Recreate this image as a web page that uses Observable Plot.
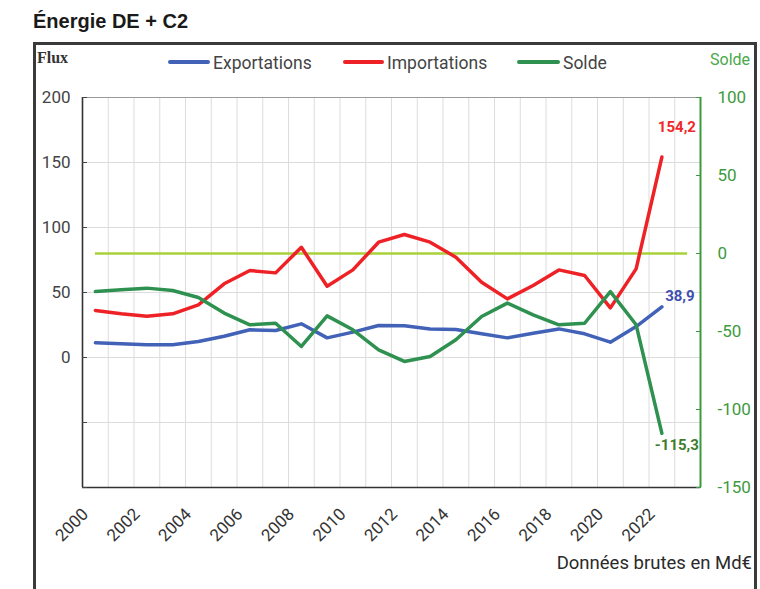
<!DOCTYPE html>
<html><head><meta charset="utf-8">
<script src="https://cdn.jsdelivr.net/npm/d3@7"></script>
<script src="https://cdn.jsdelivr.net/npm/@observablehq/plot@0.6"></script>
<style>
body{margin:0;background:#fff;}
#wrap{position:relative;width:760px;height:589px;overflow:hidden;font-family:Roboto,"Liberation Sans",Arial,sans-serif;}
.abs{position:absolute;white-space:nowrap;}
#wrap svg{position:absolute;left:0;top:0;}
</style></head><body>
<div id="wrap"></div>
<script>
// ---- data ----
const years = [2000,2001,2002,2003,2004,2005,2006,2007,2008,2009,2010,2011,2012,2013,2014,2015,2016,2017,2018,2019,2020,2021,2022];
const exportations = [11.3,10.5,9.8,9.8,12.3,16.4,21.3,20.8,25.9,15.1,19.5,24.6,24.4,22.0,21.5,18.2,15.1,18.7,22.0,18.2,11.8,23.8,38.9];
const importations = [36.2,33.6,31.8,33.6,40.5,56.7,66.9,65.1,84.8,54.8,67.4,88.7,94.6,88.7,77.2,57.9,45.1,55.4,67.4,63.1,38.2,68.2,154.2];
const solde = [-24.4,-23.3,-22.2,-23.7,-28.2,-38.2,-45.7,-44.7,-59.6,-40.0,-48.9,-61.8,-69.2,-66.0,-55.3,-40.4,-31.8,-39.3,-45.7,-44.7,-24.4,-45.7,-115.3];
const seriesNames = ["Exportations","Importations","Solde"];
const seriesColors = ["#4262b8","#ee2226","#2e9150"];
const labelColors = ["#3f4fb0","#ee2a2a","#3f7d2c"];
const leftDomain = [-100,200];
const leftTicks = [-100,-50,0,50,100,150,200];
const rightDomain = [-150,100];
const rightTicks = [100,50,0,-50,-100,-150];
const xTicks = [2000,2002,2004,2006,2008,2010,2012,2014,2016,2018,2020,2022];
const title = "Énergie DE + C2";
const leftAxisTitle = "Flux";
const rightAxisTitle = "Solde";
const footnote = "Données brutes en Md€";

// ---- derived ----
const toLeft = d3.scaleLinear().domain(rightDomain).range(leftDomain);
const xDomain = [years[0]-0.5, years[years.length-1]+1.5];
const boundaries = years.map(y => y + 0.5);
const values = [exportations, importations, solde];
const table = [];
seriesNames.forEach((s, k) => years.forEach((yr, i) => table.push({
  year: yr, serie: s, value: values[k][i], y: s === "Solde" ? toLeft(values[k][i]) : values[k][i]
})));
const last = seriesNames.map((s, k) => table.filter(d => d.serie === s).pop());
const fmt = v => v.toFixed(1).replace(".", ",");
const labelOffsets = [[18,-11],[15,-30],[15,12]];

const lineMarks = seriesNames.map((s, k) =>
  Plot.line(table.filter(d => d.serie === s), {x:"year", y:"y", stroke: seriesColors[k], strokeWidth: 3.5, strokeLinejoin:"round", strokeLinecap:"round"}));
const labelMarks = seriesNames.map((s, k) =>
  Plot.text([last[k]], {x:"year", y:"y", text: d => fmt(d.value), fill: labelColors[k], fontWeight:"bold", fontSize:15, dx: labelOffsets[k][0], dy: labelOffsets[k][1]}));

const chart = Plot.plot({
  width: 760, height: 589,
  marginLeft: 82, marginRight: 60, marginTop: 97, marginBottom: 102,
  style: {background:"transparent", fontFamily:"Roboto, 'Liberation Sans', sans-serif", fontSize:"16px", overflow:"visible"},
  x: {domain: xDomain},
  y: {domain: leftDomain},
  marks: [
    Plot.ruleY(leftTicks.slice(1, -1), {stroke:"#dcdcdc", strokeWidth:1}),
    Plot.ruleX(boundaries, {stroke:"#dcdcdc", strokeWidth:1}),
    Plot.ruleY([leftDomain[1]], {stroke:"#9a9a9a", strokeWidth:1.2}),
    Plot.ruleY([toLeft(0)], {x1: years[0], x2: xDomain[1]-0.5, stroke:"#a8d13a", strokeWidth:2.5}),
    ...lineMarks,
    ...labelMarks,
    Plot.ruleX([xDomain[0]], {stroke:"#333", strokeWidth:1.6}),
    Plot.ruleY([leftDomain[0]], {stroke:"#333", strokeWidth:1.6}),
    Plot.ruleX([xDomain[1]], {stroke:"#3c9a3c", strokeWidth:2}),
    Plot.axisY(leftTicks, {anchor:"left", tickSize:-5, tickPadding:17, tickFormat: d => d < 0 ? "" : String(d), color:"#444", fontSize:17, label:null}),
    Plot.axisY(rightTicks.map(v => toLeft(v)), {anchor:"right", tickSize:-5, tickPadding:22, tickFormat: d => String(Math.round(toLeft.invert(d))), color:"#3e9a3e", fontSize:17, label:null}),
    Plot.axisX(xTicks, {anchor:"bottom", tickRotate:-45, tickSize:0, tickPadding:24, tickFormat: d => String(d), color:"#333", fontSize:17, label:null, dx:-10})
  ]
});

const wrap = document.getElementById("wrap");
wrap.appendChild(chart);

function addText(txt, css) {
  const el = document.createElement("div");
  el.className = "abs";
  el.textContent = txt;
  Object.assign(el.style, css);
  wrap.appendChild(el);
  return el;
}
// frame
const frame = document.createElement("div");
Object.assign(frame.style, {position:"absolute", left:"33px", top:"42px", width:"724px", height:"600px", border:"3px solid #3a3a3a", boxSizing:"border-box"});
wrap.appendChild(frame);

addText(title, {left:"33px", top:"9px", fontFamily:"'Liberation Sans', Arial, sans-serif", fontWeight:"bold", fontSize:"20px", lineHeight:"24px", color:"#1a1a1a"});
addText(leftAxisTitle, {left:"37px", top:"48px", fontFamily:"'Liberation Serif', 'DejaVu Serif', serif", fontWeight:"bold", fontSize:"16px", lineHeight:"20px", color:"#333"});
addText(rightAxisTitle, {left:"710px", top:"50px", fontSize:"16px", lineHeight:"20px", color:"#4aa84a"});
addText(footnote, {right:"8px", top:"552px", fontSize:"18.5px", lineHeight:"22px", color:"#2a2a2a"});

// legend
const legendX = [[168,213],[343,387],[517,563]];
seriesNames.forEach((s, k) => {
  const ln = document.createElement("div");
  Object.assign(ln.style, {position:"absolute", left: legendX[k][0]+"px", top:"60px", width:(legendX[k][1]-legendX[k][0]-3)+"px", height:"4px", borderRadius:"2px", background: seriesColors[k]});
  wrap.appendChild(ln);
  addText(s, {left: legendX[k][1]+"px", top:"52px", fontSize:"17.5px", lineHeight:"22px", color:"#444"});
});
</script>
</body></html>
